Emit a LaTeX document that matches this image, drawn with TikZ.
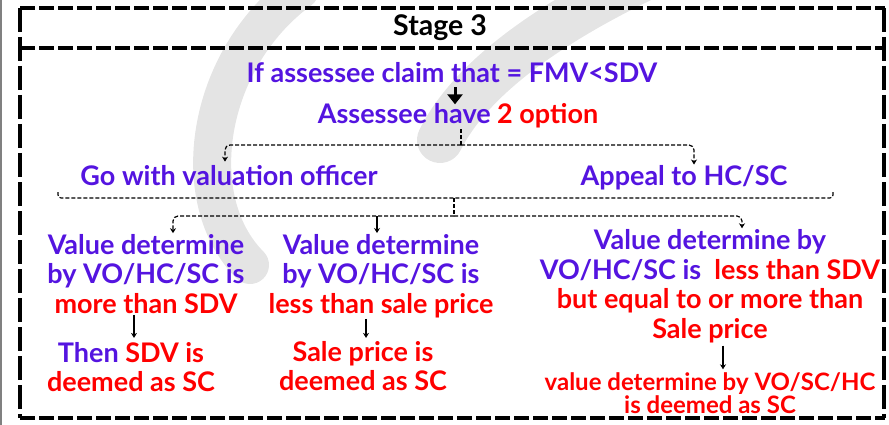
\documentclass[tikz,border=0pt]{standalone}
\usepackage{fontspec}
\setmainfont{Lato}
\usetikzlibrary{arrows.meta,positioning,calc}
\definecolor{Ink}{HTML}{000000}
\definecolor{Violet}{HTML}{5414E0}
\definecolor{Alert}{HTML}{FF0000}
\definecolor{Mark}{HTML}{E4E4E4}
\tikzset{
  txt/.style={font=\bfseries\fontsize{27}{29.5}\selectfont,text=Violet,align=center,inner sep=1pt},
  hot/.style={txt,text=Alert},
  small/.style={font=\bfseries\fontsize{24}{23}\selectfont,text=Alert,align=center,inner sep=1pt},
  frame/.style={Ink,line width=3.5pt,dash pattern=on 15pt off 4pt},
  side/.style={Ink,line width=3.5pt,dash pattern=on 24pt off 5pt},
  dashline/.style={Ink,line width=1.1pt,dash pattern=on 4pt off 2pt},
  tip/.style={-{Stealth[length=5pt,width=6pt]},Ink,line width=1.2pt},
  bigtip/.style={-{Triangle[length=10pt,width=15pt]},Ink,line width=3pt},
}
\begin{document}
\begin{tikzpicture}[x=1pt,y=-1pt]
\useasboundingbox (0,0) rectangle (889,425);
% watermark
\draw[Mark,line width=38pt,line cap=round] (300,-10) .. controls (205,60) and (185,200) .. (250,265);
\draw[Mark,line width=46pt,line cap=round] (650,-25) .. controls (545,25) and (470,80) .. (440,140);
\draw[gray,line width=1.5pt] (1,0) -- (1,425);
% frame
\draw[frame] (20,8) -- (885,8);
\draw[frame] (20,48) -- (885,48);
\draw[frame] (20,418) -- (885,418);
\draw[side] (20,8) -- (20,418);
\draw[side] (884,8) -- (884,418);
\node[txt,text=Ink,font=\bfseries\fontsize{28.5}{29}\selectfont] (title) at (440,28) {Stage 3};
% claim and options
\node[txt] (claim) at (452,73) {If assessee claim that = FMV<SDV};
\node[txt] (option) at (458,116) {Assessee have \textcolor{Alert}{2 option}};
\node[txt] (valuer) at (229,176) {Go with valuation officer};
\node[txt] (appeal) at (684,178) {Appeal to HC/SC};
% outcomes
\node[txt] (more) at (146,274) {Value determine\\by VO/HC/SC is\\\textcolor{Alert}{more than SDV}};
\node[txt] (less) at (381,276) {Value determine\\by VO/HC/SC is\\\textcolor{Alert}{less than sale price}};
\node[txt] (between) at (710,286) {Value determine by\\VO/HC/SC is \ \textcolor{Alert}{less than SDV}\\\textcolor{Alert}{but equal to or more than}\\\textcolor{Alert}{Sale price}};
\node[txt] (sdv) at (131,367) {Then \textcolor{Alert}{SDV is}\\\textcolor{Alert}{deemed as SC}};
\node[hot] (sale) at (363,366) {Sale price is\\deemed as SC};
\node[small] (deem) at (710,393) {value determine by VO/SC/HC\\is deemed as SC};
% connectors
\draw[bigtip] ([xshift=3pt,yshift=-3pt]claim.south) -- ++(0,17);
\coordinate (fork) at (461,145);
\draw[dashline] (option.south -| fork) -- (fork);
\draw[dashline,tip,rounded corners=5pt] (fork) -| ([xshift=-4pt,yshift=3pt]valuer.north);
\draw[dashline,tip,rounded corners=5pt] (fork) -| ([xshift=10pt]appeal.north);
\coordinate (brl) at (58,192);
\coordinate (brr) at (833,192);
\coordinate (split) at (454,198);
\draw[dashline,rounded corners=3pt] (brl) |- (split) -| (brr);
\coordinate (fork2) at (454,216);
\draw[dashline] (split) -- (fork2);
\draw[dashline,tip,rounded corners=5pt] (fork2) -| ([xshift=27pt]more.north);
\draw[dashline,tip,rounded corners=5pt] (fork2) -| ([xshift=32pt]between.north);
\draw[tip] ([xshift=-4pt]less.north |- fork2) -- ([xshift=-4pt]less.north);
\draw[tip,shorten >=3pt] ([xshift=-12pt]more.south) -- ([xshift=-12pt]more.south |- sdv.north);
\draw[tip,shorten >=2pt] ([xshift=-15pt]less.south) -- ([xshift=-15pt]less.south |- sale.north);
\draw[tip,shorten <=2pt,shorten >=2pt] ([xshift=13pt]between.south) -- ([xshift=13pt]between.south |- deem.north);
\end{tikzpicture}
\end{document}
